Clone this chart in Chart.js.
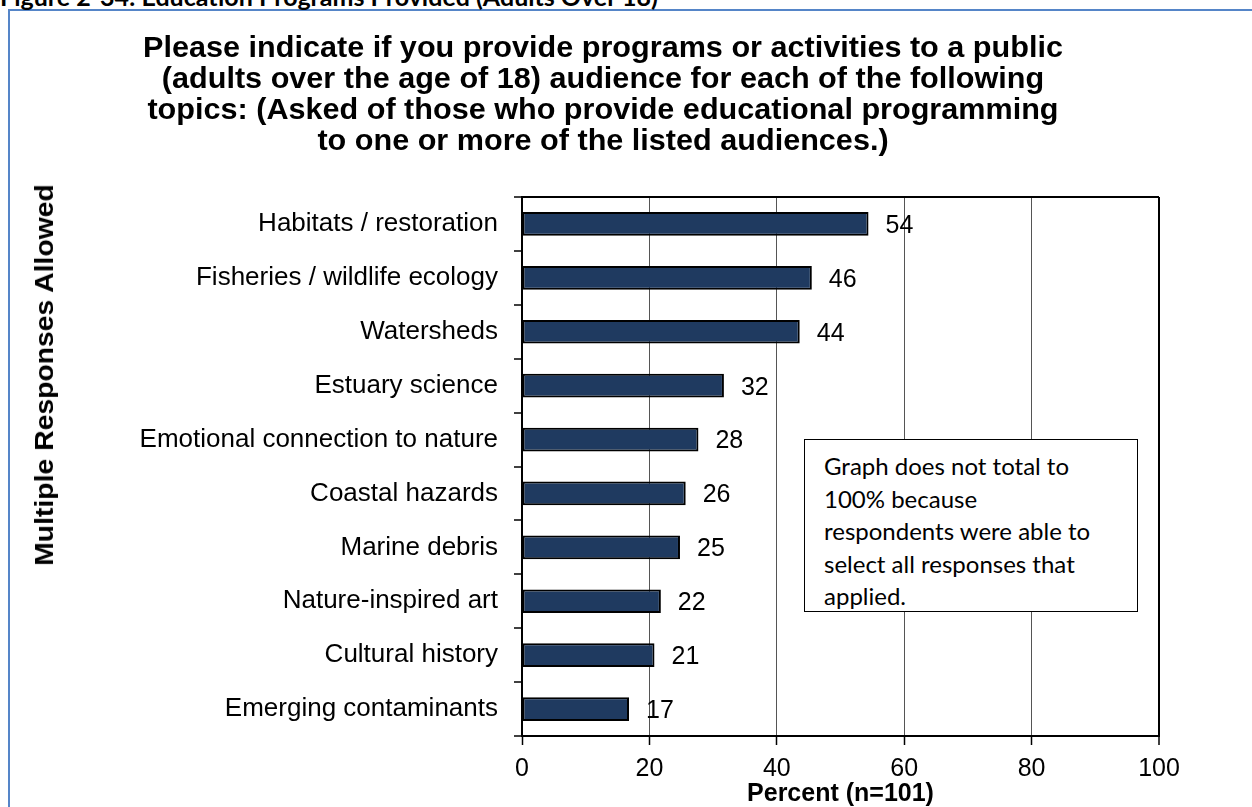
<!DOCTYPE html>
<html>
<head>
<meta charset="utf-8">
<script src="https://cdn.jsdelivr.net/npm/chart.js@4.4.1/dist/chart.umd.min.js"></script>
<style>
  html, body { margin: 0; padding: 0; background: #fff; }
  body { width: 1252px; height: 807px; position: relative; overflow: hidden; font-family: "Liberation Sans", Arial, sans-serif; }
  #frame { position: absolute; left: 8px; top: 9px; width: 1300px; height: 900px; border-left: 2px solid #5585c8; border-top: 2px solid #5585c8; }
  #caption { position: absolute; left: 0; top: -17px; font: bold 25px/26px Lato, "Liberation Sans", sans-serif; white-space: nowrap; color: #000; }
  #chart { position: absolute; left: 0; top: 0; }
  #title { position: absolute; left: 603px; top: 32px; transform: translateX(-50%) scaleX(1.055); font: bold 29px/31px "Liberation Sans", Arial, sans-serif; text-align: center; white-space: nowrap; color: #000; }
  #ytitle { position: absolute; left: 44px; top: 375px; transform: translate(-50%, -50%) rotate(-90deg) scaleX(1.09); font: bold 26px/26px "Liberation Sans", Arial, sans-serif; white-space: nowrap; color: #000; }
  #note { position: absolute; left: 804px; top: 439px; width: 334px; height: 173px; box-sizing: border-box; border: 1.5px solid #000; background: #fff; padding: 10px 0 0 19px; font: 24px/32.5px Lato, "Open Sans", sans-serif; color: #000; white-space: nowrap; }
</style>
</head>
<body>
<div id="frame"></div>
<div id="caption">Figure 2-34: Education Programs Provided (Adults Over 18)</div>
<canvas id="chart" width="1252" height="807"></canvas>
<div id="title">Please indicate if you provide programs or activities to a public<br>(adults over the age of 18) audience for each of the following<br>topics: (Asked of those who provide educational programming<br>to one or more of the listed audiences.)</div>
<div id="ytitle">Multiple Responses Allowed</div>
<div id="note">Graph does not total to<br>100% because<br>respondents were able to<br>select all responses that<br>applied.</div>
<script>
// topics, top to bottom
const topics = [
    'Habitats / restoration',
    'Fisheries / wildlife ecology',
    'Watersheds',
    'Estuary science',
    'Emotional connection to nature',
    'Coastal hazards',
    'Marine debris',
    'Nature-inspired art',
    'Cultural history',
    'Emerging contaminants'
];
// percent of respondents (n=101), labels show the rounded value
const percents = [54.4, 45.5, 43.6, 31.7, 27.7, 25.7, 24.8, 21.8, 20.8, 16.8];
const xTicks = [0, 20, 40, 60, 80, 100];

const FONT = '"Liberation Sans", Arial, sans-serif';

// value labels to the right of each bar
const valueLabels = {
    id: 'valueLabels',
    afterDatasetsDraw(chart) {
        const ctx = chart.ctx;
        const meta = chart.getDatasetMeta(0);
        ctx.save();
        ctx.font = '25px ' + FONT;
        ctx.fillStyle = '#000';
        ctx.textAlign = 'left';
        ctx.textBaseline = 'middle';
        meta.data.forEach((bar, i) => {
            ctx.fillText(String(Math.round(percents[i])), bar.x + 17, bar.y + 2);
        });
        ctx.restore();
    }
};

new Chart(document.getElementById('chart').getContext('2d'), {
    type: 'bar',
    data: {
        labels: topics,
        datasets: [{
            data: percents,
            backgroundColor: '#1f3a60',
            borderColor: '#000',
            borderWidth: 2,
            borderSkipped: false,
            categoryPercentage: 1.0,
            barPercentage: 0.44
        }]
    },
    options: {
        indexAxis: 'y',
        responsive: false,
        animation: false,
        layout: { padding: { left: 0, top: 197, right: 93, bottom: 0 } },
        plugins: {
            legend: { display: false },
            tooltip: { enabled: false }
        },
        scales: {
            x: {
                min: 0,
                max: 100,
                afterBuildTicks: (s) => { s.ticks = xTicks.map(v => ({ value: v })); },
                ticks: { color: '#000', font: { family: FONT, size: 25 }, padding: 9 },
                grid: {
                    color: (c) => {
                        const v = c.tick ? c.tick.value : null;
                        if (v === 0) return 'transparent';
                        if (v === 100) return '#000';
                        return '#555';
                    },
                    lineWidth: (c) => (c.tick && c.tick.value === 100 ? 2 : 1),
                    tickColor: '#000',
                    tickWidth: 1.5,
                    tickLength: 9
                },
                border: { color: '#000', width: 2 },
                title: {
                    display: true,
                    text: 'Percent (n=101)',
                    color: '#000',
                    font: { family: FONT, size: 25, weight: 'bold', lineHeight: 1 },
                    padding: { top: 0, bottom: 0 }
                },
                afterFit: (s) => { s.height = 71; }
            },
            y: {
                ticks: { color: '#000', font: { family: FONT, size: 26 }, padding: 16 },
                grid: {
                    offset: true,
                    color: (c) => (c.index === 0 ? '#000' : 'transparent'),
                    lineWidth: 2,
                    tickColor: '#000',
                    tickWidth: 1.5,
                    tickLength: 8
                },
                border: { color: '#000', width: 2 },
                afterFit: (s) => { s.width = 522; }
            }
        }
    },
    plugins: [valueLabels]
});
</script>
</body>
</html>
